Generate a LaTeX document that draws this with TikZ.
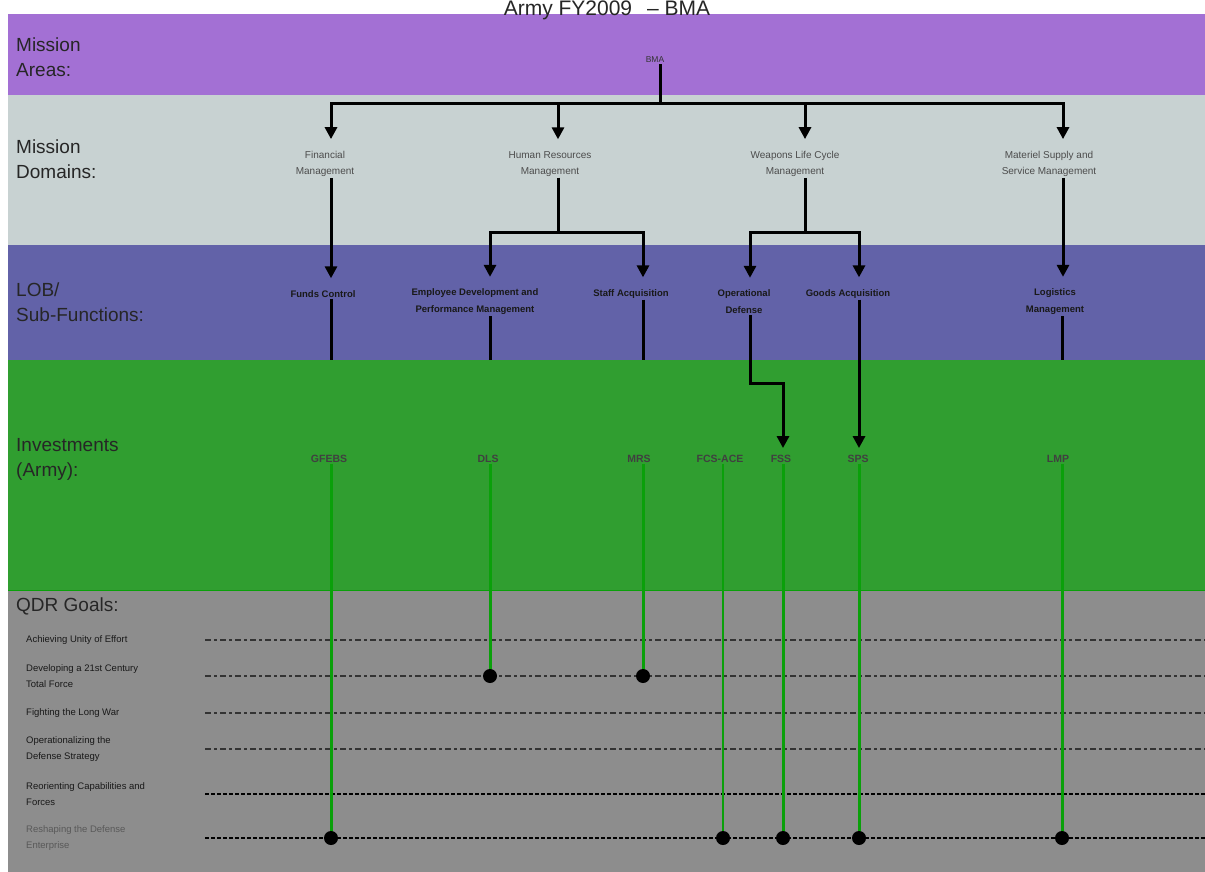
\documentclass[tikz,border=0pt]{standalone}
\usepackage{fontspec}
\setmainfont{Liberation Sans}
\usepackage{tikz}
\usetikzlibrary{arrows.meta}

\definecolor{areapurple}{RGB}{163,112,212}
\definecolor{domaingray}{RGB}{200,210,210}
\definecolor{lobblue}{RGB}{98,98,168}
\definecolor{investgreen}{RGB}{48,158,48}
\definecolor{goalgray}{RGB}{141,141,141}
\definecolor{linkgreen}{RGB}{10,160,10}

\tikzset{
  titletext/.style={anchor=base, inner sep=0pt, font=\fontsize{21}{24}\selectfont, text=black!85},
  bandlabel/.style={anchor=north west, align=left, inner sep=0pt, font=\fontsize{19}{25}\selectfont, text=black!85},
  areatext/.style={inner sep=1pt, font=\fontsize{8.5}{9}\selectfont, text=black!80},
  domaintext/.style={align=center, inner sep=1pt, font=\fontsize{10}{16}\selectfont, text=black!70},
  lobtext/.style={align=center, inner sep=1pt, font=\fontsize{9.5}{17}\selectfont\bfseries, text=black!90},
  investtext/.style={inner sep=1pt, font=\fontsize{10.5}{11}\selectfont\bfseries, text=black!75},
  goaltext/.style={anchor=west, align=left, inner sep=0pt, font=\fontsize{9.5}{16}\selectfont, text=black!90},
  treeline/.style={line width=3pt, black},
  treearrow/.style={treeline, -{Triangle[length=12pt,width=12pt]}, shorten >=11pt},
  goalline/.style={line width=1.5pt, black!80, dash pattern=on 6pt off 3pt on 3pt off 3pt},
  goalbold/.style={line width=2.4pt, black, dash pattern=on 4pt off 2pt},
  greenlink/.style={line width=3pt, linkgreen},
  hitdot/.style={circle, fill=black, inner sep=0pt, minimum size=14pt},
}

\begin{document}
\begin{tikzpicture}[x=1pt,y=-1pt]
  \useasboundingbox (0,0) rectangle (1205,872);
  \fill[white] (0,0) rectangle (1205,872);
  \fill[areapurple] (8,14) rectangle (1205,95);
  \fill[domaingray] (8,95) rectangle (1205,245);
  \fill[lobblue] (8,245) rectangle (1205,360);
  \fill[investgreen] (8,360) rectangle (1205,590);
  \fill[goalgray] (8,590) rectangle (1205,872);
  \draw[linkgreen, line width=1pt] (8,590) -- (1205,590);

  \node[titletext] (title) at (607,16) {Army FY2009\hspace{15pt}– BMA};

  \node[bandlabel] (lblareas) at (16,38) {Mission\\Areas:};
  \node[bandlabel] (lbldomains) at (16,140) {Mission\\Domains:};
  \node[bandlabel] (lbllob) at (16,283) {LOB/\\Sub-Functions:};
  \node[bandlabel] (lblinvest) at (16,438) {Investments\\(Army):};
  \node[bandlabel] (lblgoals) at (16,598) {QDR Goals:};

  \node[areatext] (bma) at (655,60) {BMA};

  \node[domaintext] (fin) at (325,164) {Financial\\Management};
  \node[domaintext] (hr) at (550,164) {Human Resources\\Management};
  \node[domaintext] (wlc) at (795,164) {Weapons Life Cycle\\Management};
  \node[domaintext] (msm) at (1049,164) {Materiel Supply and\\Service Management};

  \node[lobtext] (funds) at (323,294) {Funds Control};
  \node[lobtext] (empdev) at (475,302) {Employee Development and\\Performance Management};
  \node[lobtext] (staffacq) at (631,294) {Staff Acquisition};
  \node[lobtext] (opdef) at (744,302) {Operational\\Defense};
  \node[lobtext] (goodsacq) at (848,294) {Goods Acquisition};
  \node[lobtext] (logmgt) at (1055,302) {Logistics\\Management};

  \node[investtext] (gfebs) at (329,459) {GFEBS};
  \node[investtext] (dls) at (488,459) {DLS};
  \node[investtext] (mrs) at (639,459) {MRS};
  \node[investtext] (fcsace) at (720,459) {FCS-ACE};
  \node[investtext] (fss) at (781,459) {FSS};
  \node[investtext] (sps) at (858,459) {SPS};
  \node[investtext] (lmp) at (1058,459) {LMP};

  \node[goaltext] (g1) at (26,640) {Achieving Unity of Effort};
  \node[goaltext] (g2) at (26,676) {Developing a 21st Century\\Total Force};
  \node[goaltext] (g3) at (26,713) {Fighting the Long War};
  \node[goaltext] (g4) at (26,749) {Operationalizing the\\Defense Strategy};
  \node[goaltext] (g5) at (26,794) {Reorienting Capabilities and\\Forces};
  \node[goaltext, text=black!65] (g6) at (26,838) {Reshaping the Defense\\Enterprise};

  \coordinate (hub) at (660,104);
  \coordinate (split) at (0,232);
  \coordinate (lobfloor) at (0,360);
  \coordinate (opbend) at (0,383);
  \coordinate (qstart) at (205,0);
  \coordinate (qend) at (1205,0);
  \coordinate (colfin) at (331,0);
  \coordinate (colhr) at (558,0);
  \coordinate (colwlc) at (805,0);
  \coordinate (colmsm) at (1063,0);
  \coordinate (colemp) at (490,0);
  \coordinate (colstaff) at (643,0);
  \coordinate (colop) at (750,0);
  \coordinate (colfss) at (783,0);
  \coordinate (colgoods) at (859,0);
  \coordinate (collog) at (1062,0);
  \coordinate (colfcs) at (723,0);

  \draw[treeline] (bma.south -| hub) -- (hub);
  \foreach \dst/\col in {fin/colfin, hr/colhr, wlc/colwlc, msm/colmsm}
    \draw[treearrow] (hub) -| (\col |- \dst.north);

  \draw[treearrow] (fin.south -| colfin) -- (colfin |- funds.north);
  \draw[treeline] (hr.south -| colhr) -- (colhr |- split);
  \draw[treearrow] (colhr |- split) -| (colemp |- empdev.north);
  \draw[treearrow] (colhr |- split) -| (colstaff |- staffacq.north);
  \draw[treeline] (wlc.south -| colwlc) -- (colwlc |- split);
  \draw[treearrow] (colwlc |- split) -| (colop |- opdef.north);
  \draw[treearrow] (colwlc |- split) -| (colgoods |- goodsacq.north);
  \draw[treearrow] (msm.south -| colmsm) -- (colmsm |- logmgt.north);

  \foreach \src/\col in {funds/colfin, empdev/colemp, staffacq/colstaff, logmgt/collog}
    \draw[treeline] (\src.south -| \col) -- (\col |- lobfloor);
  \draw[treearrow, shorten >=6pt] (opdef.south -| colop) -- (colop |- opbend) -| (colfss |- fss.north);
  \draw[treearrow, shorten >=6pt] (goodsacq.south -| colgoods) -- (colgoods |- sps.north);

  \foreach \g in {g1,g2,g3,g4}
    \draw[goalline] (qstart |- \g.east) -- (qend |- \g.east);
  \foreach \g in {g5,g6}
    \draw[goalbold] (qstart |- \g.east) -- (qend |- \g.east);

  \coordinate (hgfebs) at (colfin |- g6.east);
  \coordinate (hdls) at (colemp |- g2.east);
  \coordinate (hmrs) at (colstaff |- g2.east);
  \coordinate (hfcs) at (colfcs |- g6.east);
  \coordinate (hfss) at (colfss |- g6.east);
  \coordinate (hsps) at (colgoods |- g6.east);
  \coordinate (hlmp) at (collog |- g6.east);

  \foreach \src/\dst in {gfebs/hgfebs, dls/hdls, mrs/hmrs, fss/hfss, sps/hsps, lmp/hlmp}
    \draw[greenlink] (\src.south -| \dst) -- (\dst);
  \draw[greenlink, line width=1.6pt] (fcsace.south -| hfcs) -- (hfcs);

  \foreach \h in {hgfebs,hdls,hmrs,hfcs,hfss,hsps,hlmp}
    \node[hitdot] at (\h) {};
\end{tikzpicture}
\end{document}
